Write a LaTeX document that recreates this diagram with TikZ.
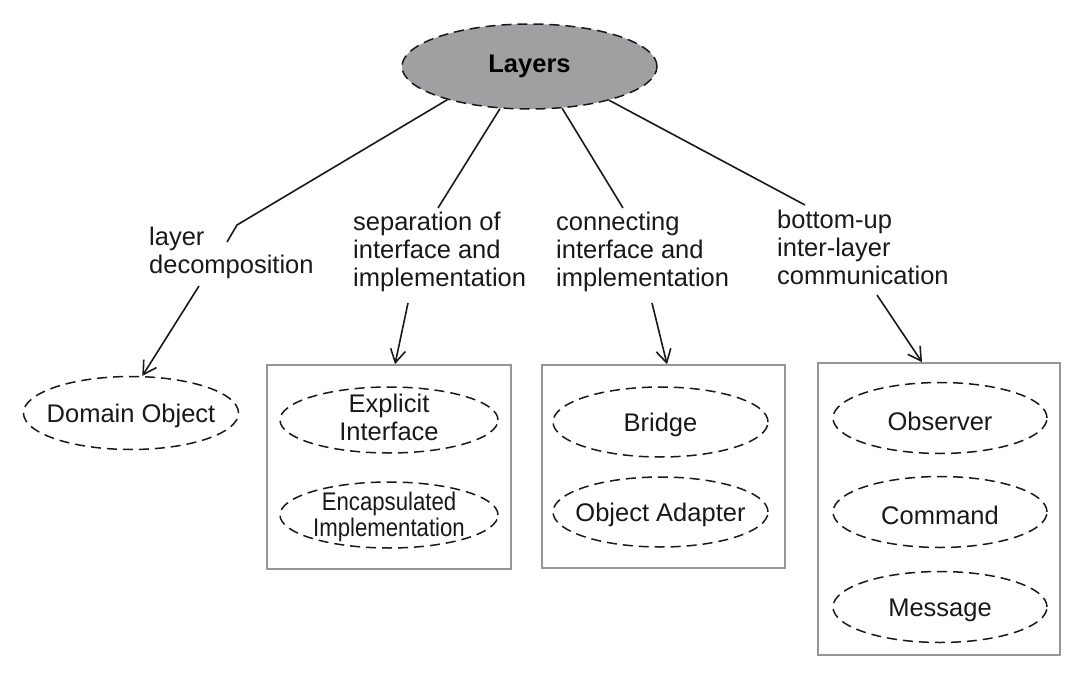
\documentclass[tikz,border=0pt]{standalone}
\usepackage{fontspec}
\setmainfont{Liberation Sans}
\newfontfamily\narrowfont[FakeStretch=0.87]{Liberation Sans}
\usetikzlibrary{shapes.geometric,arrows.meta}
\definecolor{layfill}{RGB}{160,160,163}
\definecolor{boxgray}{RGB}{150,150,150}
\definecolor{ink}{RGB}{25,25,25}
\begin{document}
\begin{tikzpicture}[x=1pt,y=-1pt,
  font=\fontsize{25.5}{28}\selectfont,
  conn/.style={draw=ink, line width=1.6pt},
  arr/.style={conn, -{Straight Barb[length=13pt,width=15pt,line width=1.6pt]}},
  pat/.style 2 args={ellipse, draw=ink, line width=1.5pt, dash pattern=on 10pt off 6pt,
    inner sep=0pt, minimum width=#1, minimum height=#2},
  grpbox/.style 2 args={rectangle, draw=boxgray, line width=1.6pt, inner sep=0pt,
    minimum width=#1, minimum height=#2},
  lbl/.style={align=left, anchor=north west, inner sep=0pt, text=ink},
  txt/.style={align=center, text=ink, yshift=-3pt},
]
\useasboundingbox (0,0) rectangle (1084,690);

% root
\node[ellipse, draw=ink, line width=1.5pt, dash pattern=on 10pt off 6pt, fill=layfill,
  inner sep=0pt, minimum width=255pt, minimum height=85pt, font=\fontsize{25.5}{28}\selectfont\bfseries]
  (layers) at (529.5,66.5) {Layers};

% relation labels
\node[lbl] (lab1) at (149,226.7) {layer\\decomposition};
\node[lbl] (lab2) at (353,212) {separation of\\interface and\\implementation};
\node[lbl] (lab3) at (556,212) {connecting\\interface and\\implementation};
\node[lbl] (lab4) at (777,210) {bottom-up\\inter-layer\\communication};

% group boxes
\node[grpbox={244pt}{204pt}] (box2) at (389,467) {};
\node[grpbox={243pt}{203pt}] (box3) at (663.5,466.5) {};
\node[grpbox={242pt}{292pt}] (box4) at (939,509) {};

% patterns
\node[pat={215pt}{73pt}, label={[txt]center:Domain Object}] (dom) at (131,413) {};
\node[pat={218pt}{66pt}, label={[txt,yshift=6pt]center:Explicit\\Interface}] (ei) at (389,420) {};
\node[pat={218pt}{66pt}, label={[txt,yshift=1pt,font=\narrowfont\fontsize{25.5}{26}\selectfont]center:Encapsulated\\Implementation}] (enc) at (389,515) {};
\node[pat={215pt}{70pt}, label={[txt]center:Bridge}] (bridge) at (660.5,422) {};
\node[pat={215pt}{70pt}, label={[txt]center:Object Adapter}] (oa) at (660.5,512) {};
\node[pat={214pt}{71pt}, label={[txt]center:Observer}] (obs) at (940,418) {};
\node[pat={214pt}{71pt}, label={[txt]center:Command}] (cmd) at (940,512) {};
\node[pat={214pt}{71pt}, label={[txt]center:Message}] (msg) at (940,607) {};

% connectors from root to labels
\coordinate (k1) at (237,225);
\coordinate (e1) at (227,242);
\coordinate (e2) at (438,208);
\coordinate (e3) at (623,208);
\coordinate (e4) at (805,205);
\draw[conn] (layers.202.7) -- (k1) -- (e1);
\draw[conn] (layers.235) -- (e2);
\draw[conn] (layers.308.9) -- (e3);
\draw[conn] (layers.337.9) -- (e4);

% arrows from labels to targets
\coordinate (s1) at (199,286);
\coordinate (s2) at (408,303);
\coordinate (s3) at (652,303);
\coordinate (s4) at (877,295);
\draw[arr] (s1) -- (dom.73);
\draw[arr] (s2) -- ([xshift=6pt]box2.north);
\draw[arr] (s3) -- ([xshift=3.5pt]box3.north);
\draw[arr] (s4) -- ([xshift=-17pt]box4.north);
\end{tikzpicture}
\end{document}
